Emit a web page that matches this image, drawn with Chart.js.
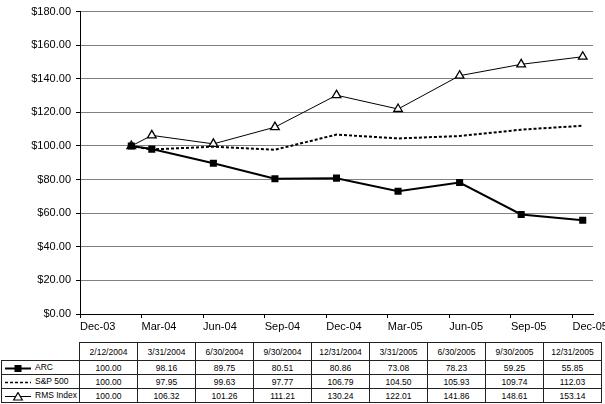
<!DOCTYPE html>
<html><head><meta charset="utf-8">
<script src="https://cdn.jsdelivr.net/npm/chart.js@4"></script>
<style>
html,body{margin:0;padding:0;background:#fff;}
body{width:605px;height:404px;position:relative;overflow:hidden;font-family:Arial,"Liberation Sans",sans-serif;}
#wrap{position:absolute;left:0;top:0;width:605px;height:341px;}
#tbl{position:absolute;left:1px;top:342px;border-collapse:collapse;table-layout:fixed;font-size:8.5px;color:#000;}
#tbl td{border:1px solid #222;text-align:center;padding:0;overflow:hidden;white-space:nowrap;line-height:10px;}
#tbl tr.h td{height:17px;}
#tbl tr.d td{height:13px;}
#tbl td.lab{text-align:left;padding-left:2px;}
#tbl td.blank{border:none;border-right:1px solid #222;}
#tbl svg{vertical-align:middle;margin-right:3px;}
</style></head>
<body>
<div id="wrap"><canvas id="c" width="605" height="341"></canvas></div>
<table id="tbl"></table>
<script>
// ---- data ----
const dates = ['2/12/2004','3/31/2004','6/30/2004','9/30/2004','12/31/2004','3/31/2005','6/30/2005','9/30/2005','12/31/2005'];
const tickLabels = ['Dec-03','Mar-04','Jun-04','Sep-04','Dec-04','Mar-05','Jun-05','Sep-05','Dec-05'];
const arc   = [100.00, 98.16, 89.75, 80.51, 80.86, 73.08, 78.23, 59.25, 55.85];
const sp500 = [100.00, 97.95, 99.63, 97.77, 106.79, 104.50, 105.93, 109.74, 112.03];
const rms   = [100.00, 106.32, 101.26, 111.21, 130.24, 122.01, 141.86, 148.61, 153.14];
const seriesNames = ['ARC', 'S&P 500', 'RMS Index'];
const yTicks = [0, 20, 40, 60, 80, 100, 120, 140, 160, 180];

// month-bin position of each date (axis starts at Dec 2003, bins are months, points centred in bin)
function monthPos(d) {
  const [m, , y] = d.split('/').map(Number);
  return (y - 2003) * 12 + (m - 12) + 0.5;
}
const xs = dates.map(monthPos);
const pts = arr => arr.map((v, i) => ({x: xs[i], y: v}));

const FONT = 'Arial, "Liberation Sans", sans-serif';

new Chart(document.getElementById('c'), {
  type: 'line',
  data: {
    datasets: [
      {label: seriesNames[0], data: pts(arc), borderColor: '#000', borderWidth: 2,
       pointStyle: 'rect', pointRadius: 5, pointBackgroundColor: '#000', pointBorderColor: '#000', pointBorderWidth: 0},
      {label: seriesNames[1], data: pts(sp500), borderColor: '#000', borderWidth: 2, borderDash: [3, 2],
       pointRadius: 0},
      {label: seriesNames[2], data: pts(rms), borderColor: '#000', borderWidth: 1,
       pointStyle: 'triangle', pointRadius: 5, pointBackgroundColor: '#fff', pointBorderColor: '#000', pointBorderWidth: 1.3}
    ]
  },
  options: {
    responsive: false,
    animation: false,
    layout: {padding: {top: 7, right: 12, left: 0, bottom: 0}},
    plugins: {legend: {display: false}, tooltip: {enabled: false}},
    scales: {
      x: {
        type: 'linear', min: 0, max: 25,
        afterBuildTicks: s => { s.ticks = tickLabels.map((_, i) => ({value: i * 3})); },
        afterFit: s => { s.height = 27; s.paddingLeft = 0; s.paddingRight = 0; },
        ticks: {
          align: 'start', padding: 2, color: '#000', font: {family: FONT, size: 11},
          callback: v => tickLabels[Math.round(v / 3)], autoSkip: false, maxRotation: 0
        },
        grid: {drawOnChartArea: false, drawTicks: true, tickLength: 4, tickColor: '#000'},
        border: {color: '#000', width: 1}
      },
      y: {
        min: 0, max: 180,
        afterBuildTicks: s => { s.ticks = yTicks.map(v => ({value: v})); },
        afterFit: s => { s.width = 80; },
        ticks: {padding: 5, color: '#000', font: {family: FONT, size: 11},
                callback: v => '$' + Number(v).toFixed(2)},
        grid: {color: '#808080', lineWidth: 1, tickLength: 4, tickColor: '#000'},
        border: {color: '#000', width: 1}
      }
    }
  }
});

// ---- data table ----
function sample(i) {
  const W = 28, H = 9, c = H / 2;
  let s = `<svg width="${W}" height="${H}">`;
  if (i === 0) {
    s += `<line x1="1" y1="${c}" x2="${W-1}" y2="${c}" stroke="#000" stroke-width="2"/>`;
    s += `<rect x="${W/2-3.5}" y="${c-3.5}" width="7" height="7" fill="#000"/>`;
  } else if (i === 1) {
    s += `<line x1="1" y1="${c}" x2="${W-1}" y2="${c}" stroke="#000" stroke-width="1.5" stroke-dasharray="3,2"/>`;
  } else {
    s += `<line x1="1" y1="${c}" x2="${W-1}" y2="${c}" stroke="#000" stroke-width="1"/>`;
    s += `<polygon points="${W/2},${c-4} ${W/2+4.3},${c+3.5} ${W/2-4.3},${c+3.5}" fill="#fff" stroke="#000" stroke-width="1.2"/>`;
  }
  return s + '</svg>';
}
const tbl = document.getElementById('tbl');
let html = '<colgroup><col style="width:78px">' + dates.map(() => '<col style="width:58px">').join('') + '</colgroup>';
html += '<tr class="h"><td class="blank"></td>' + dates.map(d => `<td>${d}</td>`).join('') + '</tr>';
[arc, sp500, rms].forEach((arr, i) => {
  html += `<tr class="d"><td class="lab">${sample(i)}${seriesNames[i].replace('&', '&amp;')}</td>` +
          arr.map(v => `<td>${v.toFixed(2)}</td>`).join('') + '</tr>';
});
tbl.innerHTML = html;
</script>
</body></html>
